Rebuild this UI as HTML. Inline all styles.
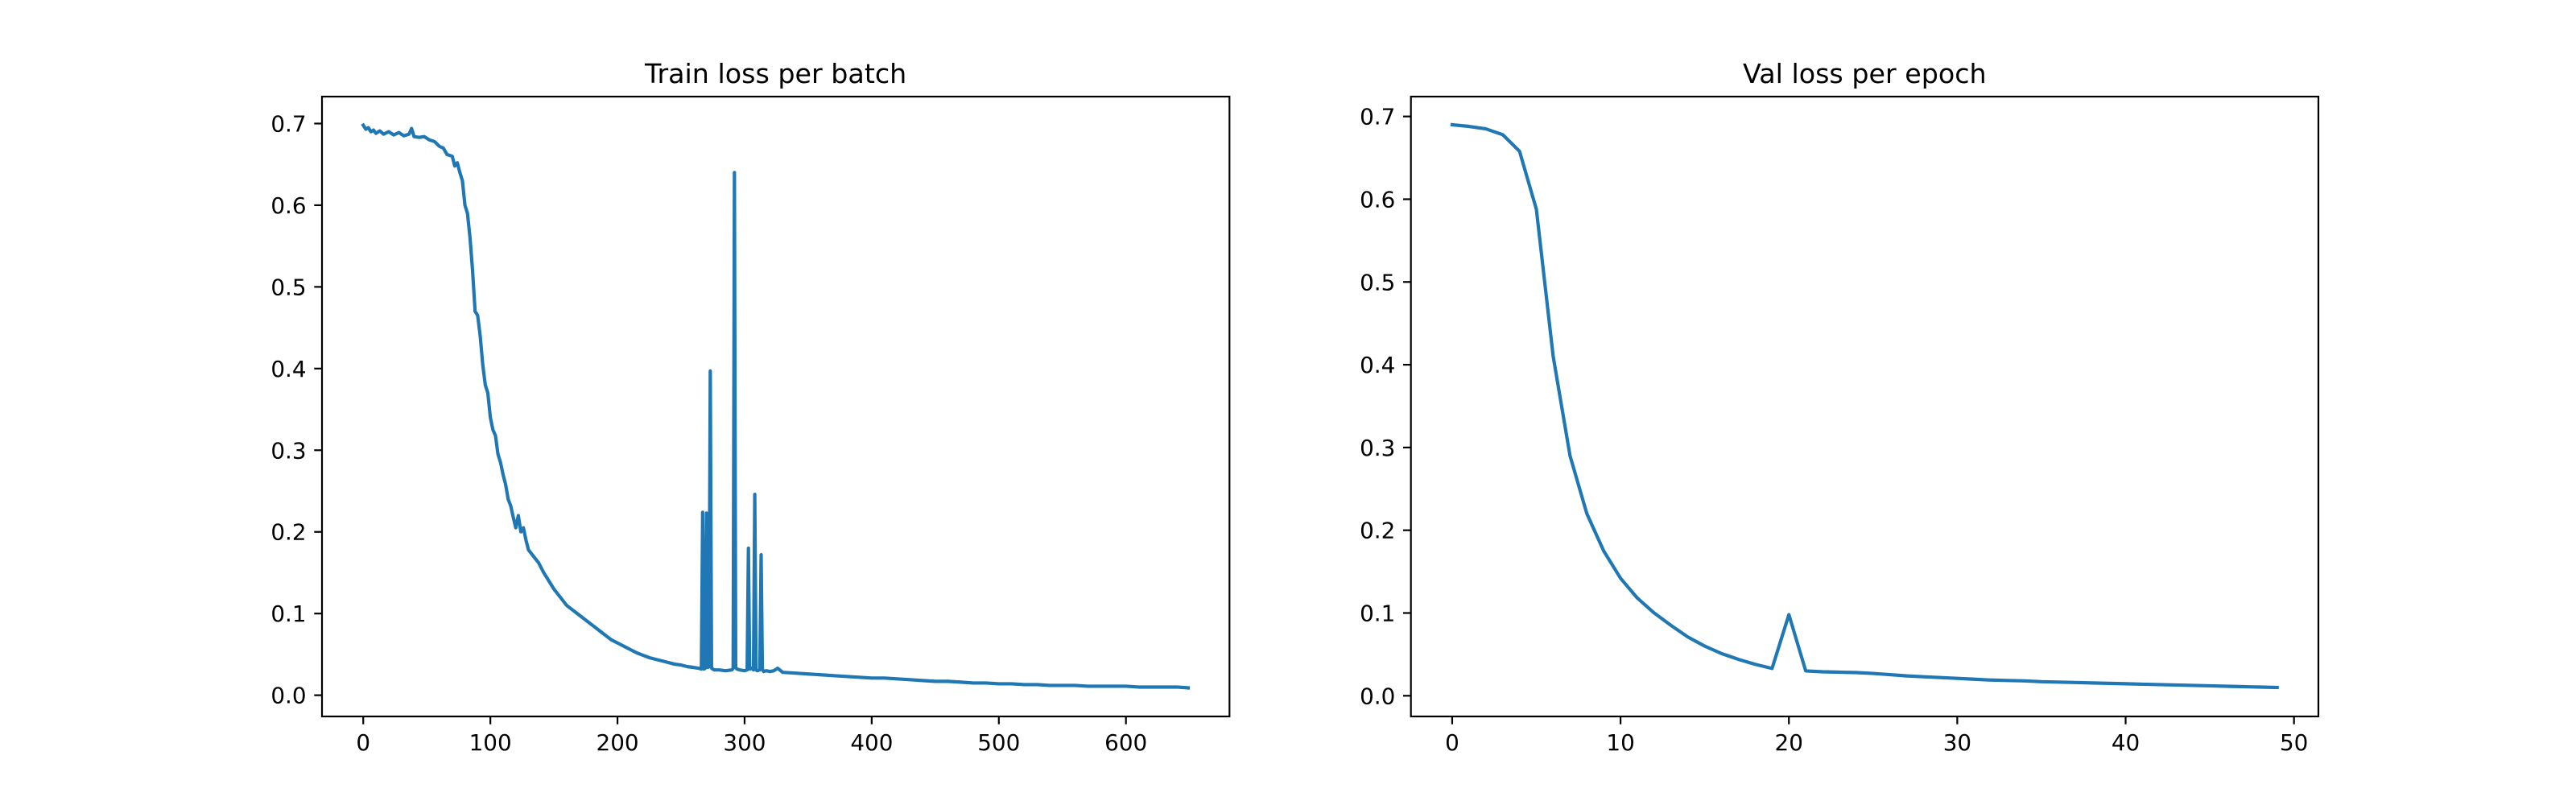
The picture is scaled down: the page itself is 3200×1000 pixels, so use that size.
<!DOCTYPE html>
<html><head><meta charset="utf-8"><style>
html,body{margin:0;padding:0;background:#fff;}
svg{display:block;font-family:"DejaVu Sans","Liberation Sans",sans-serif;}
</style></head><body>
<svg id="fig" width="3200" height="1000" viewBox="0 0 3200 1000" xmlns="http://www.w3.org/2000/svg"></svg>
<script>
const trainX = [0,2,4,6,8,10,13,16,20,24,28,32,36,38,40,44,48,52,56,60,63,66,70,72,74,76,78,80,82,84,86,88,90,92,94,96,98,100,102,104,106,108,110,112,114,116,118,120,122,124,126,128,130,134,138,142,146,150,155,160,165,170,175,180,185,190,195,200,205,210,215,220,225,230,235,240,245,250,255,260,264,266,267,268,269,270,271,272,273,274,276,280,285,290,291,292,293,294,296,300,302,303,304,306,307,308,309,310,312,313,314,315,317,320,323,326,330,340,350,360,370,380,390,400,410,420,430,440,450,460,470,480,490,500,510,520,530,540,550,560,570,580,590,600,610,620,630,640,649];
const trainY = [0.698,0.693,0.695,0.690,0.692,0.688,0.691,0.687,0.690,0.686,0.689,0.685,0.687,0.694,0.684,0.683,0.684,0.680,0.678,0.672,0.670,0.662,0.660,0.648,0.652,0.640,0.630,0.600,0.590,0.560,0.520,0.470,0.465,0.440,0.405,0.380,0.370,0.340,0.325,0.318,0.295,0.285,0.270,0.258,0.240,0.232,0.218,0.205,0.220,0.200,0.205,0.190,0.178,0.170,0.162,0.150,0.140,0.130,0.120,0.110,0.104,0.098,0.092,0.086,0.080,0.074,0.068,0.064,0.060,0.056,0.052,0.049,0.046,0.044,0.042,0.040,0.038,0.037,0.035,0.034,0.033,0.032,0.224,0.032,0.033,0.223,0.034,0.035,0.397,0.033,0.031,0.031,0.030,0.031,0.033,0.640,0.034,0.032,0.031,0.030,0.031,0.180,0.032,0.033,0.031,0.246,0.031,0.030,0.031,0.172,0.032,0.029,0.030,0.029,0.030,0.033,0.028,0.027,0.026,0.025,0.024,0.023,0.022,0.021,0.021,0.020,0.019,0.018,0.017,0.017,0.016,0.015,0.015,0.014,0.014,0.013,0.013,0.012,0.012,0.012,0.011,0.011,0.011,0.011,0.010,0.010,0.010,0.010,0.009];
const valX = [0,1,2,3,4,5,6,7,8,9,10,11,12,13,14,15,16,17,18,19,20,21,22,23,24,25,26,27,28,29,30,31,32,33,34,35,36,37,38,39,40,41,42,43,44,45,46,47,48,49];
const valY = [0.690,0.688,0.685,0.678,0.658,0.588,0.410,0.290,0.220,0.175,0.142,0.118,0.100,0.085,0.071,0.060,0.051,0.044,0.038,0.033,0.098,0.030,0.029,0.0285,0.028,0.027,0.0255,0.024,0.023,0.022,0.021,0.020,0.019,0.0185,0.018,0.017,0.0165,0.016,0.0155,0.015,0.0145,0.014,0.0135,0.013,0.0125,0.012,0.0115,0.011,0.0105,0.010];
const trainXTicks = [0,100,200,300,400,500,600];
const valXTicks = [0,10,20,30,40,50];
const yTicks = [0.0,0.1,0.2,0.3,0.4,0.5,0.6,0.7];

const NS = "http://www.w3.org/2000/svg";
const svg = document.getElementById('fig');
function el(tag, attrs, parent){const e=document.createElementNS(NS,tag);for(const k in attrs)e.setAttribute(k,attrs[k]);(parent||svg).appendChild(e);return e;}

function drawPanel(name, L, R, T, B, xmin, xmax, ymin, ymax, xs, ys, xt, title){
  const sx = v => L + (v - xmin) / (xmax - xmin) * (R - L);
  const sy = v => B - (v - ymin) / (ymax - ymin) * (B - T);
  const g = el('g', {});
  
  
  let d = '';
  for (let i = 0; i < xs.length; i++) d += (i ? 'L' : 'M') + sx(xs[i]).toFixed(2) + ' ' + sy(ys[i]).toFixed(2);
  const line = el('path', {d: d, fill: 'none', stroke: '#1f77b4', 'stroke-width': 4.17, 'stroke-linejoin': 'round', 'stroke-linecap': 'square'}, g);
  
  
  const frame = el('rect', {x: L, y: T, width: R - L, height: B - T, fill: 'none', stroke: '#000', 'stroke-width': 2.2}, g);
  
  
  xt.forEach(v => {
    const x = sx(v);
    el('line', {x1: x, y1: B, x2: x, y2: B + 9.7, stroke: '#000', 'stroke-width': 2.2}, g);
    const t = el('text', {x: x, y: B + 42, 'font-size': 27.8, 'text-anchor': 'middle', fill: '#000'}, g);
    t.textContent = String(v);
    
    
  });
  yTicks.forEach(v => {
    const y = sy(v);
    el('line', {x1: L, y1: y, x2: L - 9.7, y2: y, stroke: '#000', 'stroke-width': 2.2}, g);
    const t = el('text', {x: L - 19.4, y: y + 10, 'font-size': 27.8, 'text-anchor': 'end', fill: '#000'}, g);
    t.textContent = v.toFixed(1);
    
    
  });
  const tt = el('text', {x: (L + R) / 2, y: T - 17, 'font-size': 33.3, 'text-anchor': 'middle', fill: '#000'}, g);
  tt.textContent = title;
  
  
}

drawPanel('train', 400, 1527.3, 120, 890, -32.45, 681.45, -0.026, 0.733, trainX, trainY, trainXTicks, 'Train loss per batch');
drawPanel('val', 1752.7, 2880, 120, 890, -2.45, 51.45, -0.025, 0.724, valX, valY, valXTicks, 'Val loss per epoch');
</script>
</body></html>
